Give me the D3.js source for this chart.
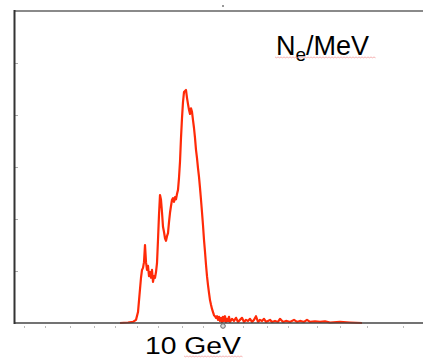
<!DOCTYPE html>
<html><head><meta charset="utf-8">
<script src="https://cdn.jsdelivr.net/npm/d3@7"></script>
<style>html,body{margin:0;padding:0;background:#fff;overflow:hidden}</style>
</head><body>
<script>
// energy channel (bin) and electron count per MeV (arbitrary units)
const channels = [105,113,118,121,123,124.5,126,127,128,129,130,131,132,133,134,135,136,137,138,139,140,141,142,143,144,145,146,147,148,149,150,151,152,153,154,155,156,157,158,159,160,161,162,163,164,165,166,167,168,169,170,171,172,173,174,175,176,177,178,179,180,181,182,183,184,185,186,187,188,189,190,191,192,193,194,195,196,197,198,199,200,201,202,203,204,205,206,207,208,209,210,211,212,213,214,215,217,219,221,223,225,227,229,231,233,235,237,239,241,243,245,247,249,251,253,255,257,260,263,265,268,271,275,279,282,285,289,292,295,300,305,310,315,325,335,347];
const counts = [0,0.01,0.02,0.06,0.21,0.54,0.87,1.02,1.06,1.17,1.50,1.17,1.02,1.10,0.90,0.98,0.87,1.02,0.79,0.90,0.87,0.98,1.15,1.60,2.08,2.46,2.37,2.13,1.85,1.75,1.63,1.58,1.67,1.73,1.94,2.12,2.25,2.37,2.40,2.33,2.42,2.38,2.48,2.56,2.79,3.10,3.56,3.94,4.25,4.44,4.46,4.48,4.33,4.21,4.10,4.02,4.13,4.06,3.90,3.75,3.56,3.33,3.17,2.98,2.81,2.60,2.37,2.13,1.88,1.60,1.37,1.12,0.90,0.73,0.58,0.44,0.35,0.27,0.21,0.15,0.13,0.10,0.13,0.06,0.12,0.04,0.10,0.02,0.12,0.04,0.13,0.02,0.08,0.04,0.12,0.02,0.08,0.04,0.10,0.02,0.06,0.10,0.02,0.06,0.04,0.08,0.02,0.06,0.13,0.02,0.06,0.04,0.08,0.02,0.04,0.06,0.02,0.04,0.02,0.08,0.02,0.04,0.02,0.06,0.02,0.04,0.02,0.06,0.02,0.03,0.02,0.03,0.01,0.02,0.01,0];
const xTickValues = [9,30,55,79,100,122,143,167,188,208,228,252,273,302,325,352,388];
const yTickValues = [1,2,3,4,5];
const markerChannel = 208;
const xLabel = "10 GeV";
const yLabelMain = "N";
const yLabelSub = "e";
const yLabelTail = "/MeV";

const W = 423, H = 358;
const svg = d3.select("body").append("svg").attr("width", W).attr("height", H);
const x = d3.scaleLinear().domain([0, 408]).range([15, 423]);
const y = d3.scaleLinear().domain([0, 6]).range([323, 11]);

// top border
svg.append("line").attr("x1", 14).attr("x2", W).attr("y1", 11).attr("y2", 11)
  .attr("stroke", "#8a8a8a").attr("stroke-width", 2);
// top small tick
svg.append("line").attr("x1", x(markerChannel)).attr("x2", x(markerChannel)).attr("y1", 5).attr("y2", 7)
  .attr("stroke", "#555").attr("stroke-width", 1.2);

// y axis ticks (inside)
const yAxis = d3.axisRight(y).tickValues(yTickValues).tickSize(3).tickFormat("");
svg.append("g").attr("transform", "translate(15,0)").call(yAxis)
  .call(g => { g.select(".domain").remove(); g.selectAll("line").attr("stroke", "#aaa").attr("stroke-width", 1); });

// x axis ticks (below)
const xAxis = d3.axisBottom(x).tickValues(xTickValues).tickSize(2).tickFormat("");
svg.append("g").attr("transform", "translate(0,326)").call(xAxis)
  .call(g => { g.select(".domain").remove(); g.selectAll("line").attr("stroke", "#bbb").attr("stroke-width", 1); });

// curve
const line = d3.line().x((d, i) => x(channels[i])).y(d => y(d));
svg.append("path").datum(counts).attr("d", line)
  .attr("fill", "none").attr("stroke", "#ff2a08").attr("stroke-width", 2.2).attr("stroke-linejoin", "round");

// axes lines
svg.append("line").attr("x1", 14).attr("x2", W).attr("y1", y(0)).attr("y2", y(0))
  .attr("stroke", "#444").attr("stroke-width", 1.5);
svg.append("line").attr("x1", 14.5).attr("x2", 14.5).attr("y1", 10).attr("y2", y(0) + 1)
  .attr("stroke", "#333").attr("stroke-width", 2);

// marker circle
svg.append("circle").attr("cx", x(markerChannel)).attr("cy", 326).attr("r", 2.3)
  .attr("fill", "#ddd").attr("stroke", "#666").attr("stroke-width", 1);

// labels
svg.append("text").attr("x", 145).attr("y", 354)
  .attr("font-family", "Liberation Sans, Arial, sans-serif").attr("font-size", 23)
  .attr("textLength", 96).attr("lengthAdjust", "spacingAndGlyphs").attr("fill", "#000").text(xLabel);

const t = svg.append("text").attr("x", 276).attr("y", 55)
  .attr("font-family", "Liberation Sans, Arial, sans-serif").attr("font-size", 27).attr("fill", "#000");
t.append("tspan").text(yLabelMain);
t.append("tspan").attr("font-size", 19).attr("dy", 6).text(yLabelSub);
t.append("tspan").attr("dy", -6).text(yLabelTail);

// spell-check squiggles
function squiggle(x0, x1, yy) {
  const pts = [];
  for (let xx = x0, k = 0; xx <= x1; xx += 1.5, k++) pts.push([xx, yy + (k % 2 ? 0.8 : 0)]);
  svg.append("path").attr("d", d3.line()(pts)).attr("fill", "none")
    .attr("stroke", "#f3a0a0").attr("stroke-width", 0.8);
}
squiggle(275, 376, 57);
squiggle(184, 243, 356);
</script>
</body></html>
